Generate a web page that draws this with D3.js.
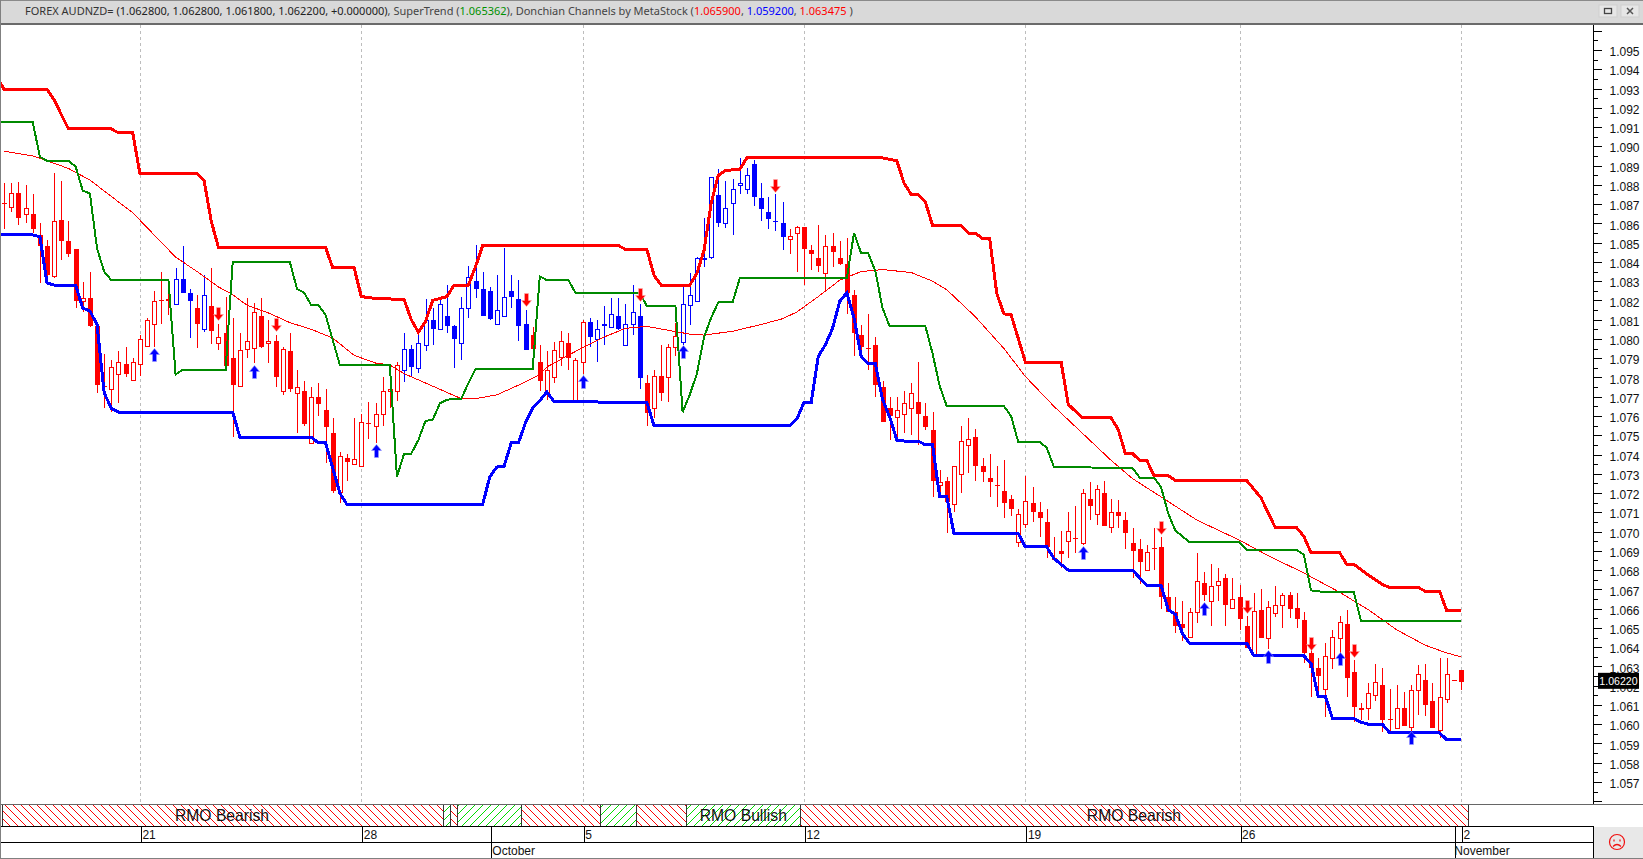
<!DOCTYPE html>
<html><head><meta charset="utf-8">
<script src="https://cdnjs.cloudflare.com/ajax/libs/d3/7.8.5/d3.min.js"></script>
<style>html,body{margin:0;padding:0;background:#fff;overflow:hidden}svg{display:block}</style>
</head><body><svg id="c" width="1643" height="859"></svg>
<script>
const opens=[1.08705,1.08685,1.08760,1.08650,1.08650,1.08540,1.08480,1.08325,1.08620,1.08510,
1.08465,1.08195,1.08210,1.08065,1.07755,1.07740,1.07820,1.07870,1.07785,1.07870,
1.07965,1.08075,1.08200,1.08205,1.08180,1.08310,1.08240,1.08160,1.08050,1.08170,
1.07980,1.08030,1.07900,1.07755,1.07950,1.07955,1.08120,1.07980,1.07990,1.07730,
1.07935,1.07720,1.07730,1.07460,1.07700,1.07630,1.07510,1.07205,1.07380,1.07350,
1.07340,1.07565,1.07550,1.07610,1.07730,1.07730,1.07840,1.07950,1.07850,1.07970,
1.08100,1.08050,1.08120,1.08065,1.07980,1.08160,1.08300,1.08260,1.08250,1.08080,
1.08120,1.08250,1.08205,1.08075,1.08020,1.07880,1.07725,1.07805,1.07905,1.07980,
1.07685,1.07880,1.08090,1.08000,1.08080,1.08060,1.08120,1.07970,1.08075,1.08120,
1.07770,1.07640,1.07810,1.07805,1.07960,1.07985,1.08175,1.08195,1.08420,1.08425,
1.08745,1.08600,1.08705,1.08800,1.08780,1.08910,1.08730,1.08660,1.08610,1.08600,
1.08520,1.08550,1.08580,1.08460,1.08420,1.08340,1.08480,1.08420,1.08390,1.08230,
1.08020,1.07955,1.07970,1.07750,1.07640,1.07595,1.07610,1.07640,1.07675,1.07600,
1.07525,1.07240,1.07265,1.07145,1.07300,1.07450,1.07490,1.07340,1.07280,1.07240,
1.07210,1.07170,1.06945,1.07040,1.07150,1.07100,1.07050,1.06865,1.06900,1.06950,
1.06965,1.06940,1.07170,1.07090,1.07200,1.07025,1.07100,1.07060,1.06940,1.06910,
1.06800,1.06915,1.06920,1.06660,1.06585,1.06520,1.06455,1.06585,1.06735,1.06640,
1.06725,1.06760,1.06605,1.06660,1.06510,1.06360,1.06595,1.06445,1.06575,1.06620,
1.06670,1.06605,1.06540,1.06370,1.06290,1.06185,1.06345,1.06445,1.06520,1.06270,
1.06085,1.06085,1.06150,1.06205,1.06025,1.05980,1.06085,1.05985,1.06175,1.06230,
1.06120,1.05970,1.06130,1.06230,1.06280];
const highs=[1.08810,1.08810,1.08815,1.08800,1.08750,1.08600,1.08515,1.08860,1.08820,1.08610,
1.08465,1.08295,1.08350,1.08085,1.07920,1.07890,1.07935,1.07960,1.07900,1.08020,
1.08110,1.08250,1.08350,1.08240,1.08370,1.08480,1.08260,1.08230,1.08330,1.08370,
1.08080,1.08220,1.08110,1.08030,1.08210,1.08185,1.08210,1.08100,1.08020,1.07960,
1.08030,1.07840,1.07780,1.07750,1.07770,1.07740,1.07590,1.07415,1.07405,1.07590,
1.07610,1.07675,1.07665,1.07805,1.07770,1.07880,1.08030,1.07970,1.08045,1.08205,
1.08160,1.08220,1.08280,1.08075,1.08220,1.08380,1.08490,1.08350,1.08270,1.08330,
1.08470,1.08330,1.08305,1.08150,1.08060,1.07970,1.07935,1.07985,1.08040,1.08030,
1.07900,1.08100,1.08110,1.08100,1.08170,1.08210,1.08210,1.08180,1.08280,1.08180,
1.07815,1.07840,1.07970,1.07975,1.08085,1.08270,1.08340,1.08425,1.08630,1.08840,
1.08880,1.08820,1.08830,1.08940,1.08890,1.08930,1.08810,1.08735,1.08750,1.08710,
1.08570,1.08585,1.08580,1.08490,1.08590,1.08540,1.08550,1.08510,1.08525,1.08255,
1.08075,1.08130,1.08010,1.07780,1.07700,1.07700,1.07730,1.07770,1.07880,1.07665,
1.07620,1.07320,1.07285,1.07340,1.07550,1.07590,1.07535,1.07380,1.07405,1.07340,
1.07370,1.07190,1.07115,1.07290,1.07230,1.07155,1.07115,1.06970,1.07005,1.07100,
1.07135,1.07220,1.07255,1.07240,1.07265,1.07170,1.07165,1.07100,1.07020,1.06960,
1.06930,1.07020,1.06970,1.06735,1.06660,1.06640,1.06605,1.06890,1.06790,1.06830,
1.06810,1.06780,1.06760,1.06725,1.06560,1.06680,1.06700,1.06640,1.06715,1.06680,
1.06685,1.06680,1.06585,1.06450,1.06345,1.06420,1.06490,1.06560,1.06595,1.06335,
1.06110,1.06215,1.06315,1.06290,1.06185,1.06205,1.06165,1.06205,1.06305,1.06315,
1.06215,1.06345,1.06345,1.06230,1.06280];
const lows=[1.08570,1.08660,1.08590,1.08600,1.08550,1.08290,1.08320,1.08315,1.08410,1.08425,
1.08160,1.08140,1.08060,1.07720,1.07640,1.07620,1.07665,1.07805,1.07780,1.07810,
1.07960,1.07960,1.08080,1.08125,1.08180,1.08240,1.08005,1.07955,1.08035,1.07975,
1.07945,1.07860,1.07490,1.07750,1.07900,1.07875,1.07955,1.07875,1.07750,1.07710,
1.07725,1.07510,1.07550,1.07460,1.07600,1.07355,1.07200,1.07150,1.07265,1.07350,
1.07335,1.07480,1.07460,1.07550,1.07640,1.07680,1.07775,1.07810,1.07825,1.07935,
1.07970,1.08045,1.08030,1.07850,1.07890,1.08110,1.08210,1.08120,1.08100,1.08075,
1.08115,1.08160,1.07990,1.07945,1.07910,1.07730,1.07685,1.07770,1.07860,1.07840,
1.07685,1.07820,1.07960,1.07880,1.07970,1.08060,1.08045,1.07970,1.08020,1.07740,
1.07550,1.07590,1.07680,1.07675,1.07910,1.07970,1.08075,1.08195,1.08375,1.08415,
1.08580,1.08575,1.08540,1.08750,1.08750,1.08690,1.08610,1.08570,1.08560,1.08460,
1.08440,1.08345,1.08280,1.08360,1.08350,1.08245,1.08375,1.08385,1.08130,1.07910,
1.07905,1.07840,1.07700,1.07570,1.07475,1.07475,1.07510,1.07500,1.07450,1.07525,
1.07180,1.07180,1.06995,1.07100,1.07200,1.07305,1.07265,1.07255,1.07180,1.07130,
1.07070,1.07080,1.06920,1.07020,1.07050,1.06970,1.06865,1.06850,1.06810,1.06865,
1.06890,1.06930,1.07060,1.07035,1.07030,1.06995,1.07020,1.06910,1.06760,1.06730,
1.06800,1.06800,1.06600,1.06580,1.06475,1.06430,1.06455,1.06525,1.06640,1.06510,
1.06640,1.06510,1.06605,1.06490,1.06395,1.06360,1.06445,1.06390,1.06555,1.06500,
1.06550,1.06500,1.06320,1.06140,1.06135,1.06035,1.06285,1.06310,1.06140,1.06010,
1.06020,1.06020,1.06120,1.05960,1.05955,1.05980,1.05990,1.05955,1.06050,1.06045,
1.05980,1.05930,1.06110,1.06230,1.06180];
const closes=[1.08705,1.08760,1.08630,1.08680,1.08570,1.08480,1.08330,1.08610,1.08510,1.08440,
1.08195,1.08210,1.08065,1.07760,1.07755,1.07855,1.07880,1.07820,1.07880,1.08000,
1.08100,1.08195,1.08200,1.08195,1.08310,1.08240,1.08195,1.08080,1.08230,1.08040,
1.08010,1.07860,1.07760,1.07945,1.07990,1.08140,1.07960,1.07990,1.07805,1.07950,
1.07740,1.07750,1.07560,1.07700,1.07660,1.07545,1.07210,1.07390,1.07360,1.07375,
1.07570,1.07565,1.07610,1.07730,1.07740,1.07865,1.07950,1.07855,1.07980,1.08100,
1.08050,1.08180,1.08065,1.08000,1.08160,1.08320,1.08260,1.08120,1.08105,1.08150,
1.08220,1.08220,1.08065,1.07945,1.07950,1.07780,1.07840,1.07945,1.07990,1.07900,
1.07890,1.08090,1.08010,1.08050,1.08065,1.08130,1.08050,1.08075,1.08140,1.07795,
1.07615,1.07810,1.07720,1.07960,1.08015,1.08180,1.08230,1.08420,1.08410,1.08840,
1.08600,1.08680,1.08780,1.08810,1.08850,1.08735,1.08675,1.08625,1.08610,1.08530,
1.08535,1.08580,1.08465,1.08440,1.08380,1.08480,1.08450,1.08390,1.08240,1.08030,
1.07960,1.07955,1.07760,1.07570,1.07600,1.07630,1.07665,1.07720,1.07610,1.07545,
1.07265,1.07255,1.07155,1.07340,1.07470,1.07480,1.07340,1.07310,1.07255,1.07240,
1.07150,1.07115,1.07090,1.07160,1.07100,1.07070,1.06920,1.06850,1.06885,1.07005,
1.06965,1.07200,1.07135,1.07220,1.07030,1.07100,1.07080,1.06995,1.06900,1.06840,
1.06895,1.06915,1.06660,1.06585,1.06510,1.06500,1.06585,1.06745,1.06670,1.06715,
1.06745,1.06620,1.06650,1.06545,1.06395,1.06590,1.06445,1.06610,1.06620,1.06670,
1.06600,1.06545,1.06370,1.06290,1.06250,1.06355,1.06455,1.06530,1.06240,1.06090,
1.06075,1.06160,1.06220,1.06020,1.06025,1.06085,1.05990,1.06175,1.06260,1.06100,
1.05980,1.06140,1.06260,1.06230,1.06220];
const colorRuns=[["r",24],["b",3],["r",1],["b",1],["r",27],["b",18],["r",8],["b",8],["r",5],["b",15],["r",95]];

const upperBars=[-1,0,6,7,9,15,16,18,19,27,28,29,30,45,46,49,50,52,56,57,58,59,60,62,63,65,66,67,86,87,90,91,92,96,97,98,99,100,101,103,104,123,125,126,127,128,129,130,134,135,136,137,138,139,140,141,143,148,149,151,155,156,157,158,159,160,161,163,164,174,176,178,181,182,183,187,188,189,191,193,194,198,199,201,202,204];
const upperVals=[1.09360,1.09295,1.09295,1.09240,1.09090,1.09090,1.09070,1.09070,1.08860,1.08860,1.08820,1.08610,1.08475,1.08475,1.08370,1.08370,1.08220,1.08210,1.08205,1.08100,1.08035,1.08090,1.08200,1.08220,1.08280,1.08280,1.08375,1.08485,1.08485,1.08465,1.08465,1.08330,1.08280,1.08280,1.08340,1.08460,1.08705,1.08850,1.08875,1.08880,1.08940,1.08940,1.08925,1.08810,1.08750,1.08750,1.08710,1.08590,1.08590,1.08550,1.08550,1.08520,1.08520,1.08235,1.08130,1.08125,1.07880,1.07880,1.07660,1.07590,1.07590,1.07530,1.07405,1.07405,1.07370,1.07370,1.07290,1.07290,1.07265,1.07265,1.07175,1.07020,1.07020,1.06975,1.06890,1.06890,1.06830,1.06830,1.06775,1.06725,1.06710,1.06710,1.06690,1.06690,1.06590,1.06590];
const lowerBars=[-1,4,5,6,7,10,11,12,13,14,15,16,32,33,43,44,45,46,47,48,67,68,69,70,71,72,73,74,75,76,77,90,91,110,111,112,113,114,115,116,117,118,119,120,121,122,123,124,125,126,128,129,130,131,132,133,142,143,146,147,149,158,160,162,163,164,165,166,174,175,182,183,184,185,186,189,190,191,193,194,201,202,204];
const lowerVals=[1.08540,1.08540,1.08530,1.08290,1.08280,1.08280,1.08160,1.08145,1.08075,1.07720,1.07640,1.07620,1.07620,1.07490,1.07490,1.07460,1.07460,1.07330,1.07200,1.07140,1.07140,1.07285,1.07335,1.07340,1.07460,1.07460,1.07565,1.07640,1.07680,1.07725,1.07675,1.07670,1.07550,1.07550,1.07585,1.07670,1.07670,1.07910,1.07970,1.08055,1.08195,1.08240,1.08110,1.07910,1.07870,1.07870,1.07685,1.07595,1.07475,1.07470,1.07470,1.07450,1.07450,1.07180,1.07180,1.06990,1.06990,1.06920,1.06920,1.06860,1.06800,1.06800,1.06720,1.06720,1.06595,1.06570,1.06470,1.06420,1.06420,1.06355,1.06355,1.06315,1.06145,1.06145,1.06030,1.06030,1.06010,1.06000,1.06000,1.05955,1.05955,1.05920,1.05920];
const superBars=[-1,4,5,6,9,10,11,12,13,14,15,23,24,25,31,32,40,41,42,43,44,45,46,47,54,55,56,57,58,59,60,61,62,64,65,66,74,75,76,79,80,89,90,94,95,96,97,98,99,100,102,103,118,119,120,121,122,123,124,129,130,131,132,140,141,142,145,146,147,158,159,161,162,163,164,166,173,174,181,182,183,185,189,190,204];
const superVals=[1.09125,1.09125,1.08945,1.08925,1.08925,1.08895,1.08770,1.08755,1.08470,1.08350,1.08305,1.08305,1.07815,1.07840,1.07840,1.08400,1.08400,1.08260,1.08240,1.08175,1.08175,1.08125,1.07995,1.07865,1.07865,1.07285,1.07405,1.07405,1.07475,1.07575,1.07580,1.07665,1.07685,1.07690,1.07770,1.07845,1.07845,1.08325,1.08305,1.08305,1.08240,1.08240,1.08170,1.08170,1.07620,1.07710,1.07820,1.08010,1.08110,1.08190,1.08190,1.08315,1.08315,1.08550,1.08445,1.08445,1.08350,1.08160,1.08065,1.08065,1.07925,1.07755,1.07650,1.07650,1.07600,1.07465,1.07465,1.07435,1.07335,1.07330,1.07280,1.07280,1.07230,1.07095,1.07005,1.06945,1.06945,1.06905,1.06905,1.06880,1.06695,1.06685,1.06685,1.06535,1.06535];
const maBars=[0,4,6,9,12,15,18,21,24,27,30,32,34,37,40,43,46,49,52,54,56,60,64,66,69,72,75,76,79,81,84,87,90,93,96,98,102,106,109,111,114,117,120,123,127,130,132,136,140,143,147,149,152,155,158,162,167,173,177,182,187,191,195,199,202,204];
const maVals=[1.08975,1.08950,1.08925,1.08885,1.08825,1.08740,1.08655,1.08540,1.08425,1.08350,1.08270,1.08230,1.08175,1.08135,1.08085,1.08050,1.08005,1.07915,1.07875,1.07865,1.07820,1.07755,1.07690,1.07690,1.07710,1.07760,1.07815,1.07855,1.07915,1.07955,1.08010,1.08055,1.08065,1.08045,1.08025,1.08020,1.08040,1.08075,1.08105,1.08140,1.08220,1.08305,1.08350,1.08360,1.08345,1.08300,1.08255,1.08115,1.07950,1.07805,1.07650,1.07580,1.07475,1.07370,1.07275,1.07180,1.07060,1.06955,1.06875,1.06785,1.06685,1.06595,1.06490,1.06410,1.06370,1.06350];

const upArrowBars=[21,35,52,81,95,151,168,177,187,197];
const upArrowVals=[1.07915,1.07830,1.07420,1.07775,1.07930,1.06890,1.06600,1.06350,1.06340,1.05930];
const downArrowBars=[30,38,73,89,108,162,174,183,189];
const downArrowVals=[1.08130,1.08070,1.08200,1.08230,1.08795,1.07020,1.06610,1.06415,1.06380];

const priceTicks=[1.095,1.094,1.093,1.092,1.091,1.090,1.089,1.088,1.087,1.086,1.085,1.084,1.083,1.082,1.081,1.080,1.079,1.078,1.077,1.076,1.075,1.074,1.073,1.072,1.071,1.070,1.069,1.068,1.067,1.066,1.065,1.064,1.063,1.062,1.061,1.060,1.059,1.058,1.057];
const weekBars=[19,50,81,112,143,173,204];
const weekLabels=["21","28","5","12","19","26","2"];
const monthBars=[68,203];
const monthLabels=["October","November"];
const rmoEdges=[-0.5,61.5,62.5,63.5,72.5,83.5,88.5,95.5,111.5,205];
const rmoStates=["bear","bull","bear","bull","bear","bull","bear","bull","bear"];
const rmoLabels=[["RMO Bearish",30.5],["RMO Bullish",103.5],["RMO Bearish",158.2]];
const lastClose=1.0622;

const x=d3.scaleLinear().domain([0,204]).range([4.2,1461]);
const y=d3.scaleLinear().domain([1.095,1.057]).range([50,782]);
const svg=d3.select("#c");
const AR="'Liberation Sans',Arial,sans-serif";
const defs=svg.append("defs");
defs.append("clipPath").attr("id","plot").append("rect").attr("x",1).attr("y",25).attr("width",1592).attr("height",779);
[["bear","#ff0000","M-1,-1L9,9M-1,7L1,9M7,-1L9,1"],["bull","#00dd00","M-1,9L9,-1M-1,1L1,-1M7,9L9,7"]].forEach(([id,c,d])=>{
  defs.append("pattern").attr("id",id).attr("patternUnits","userSpaceOnUse").attr("width",8).attr("height",8)
   .append("path").attr("d",d).attr("stroke",c).attr("stroke-width",1).attr("fill","none");
});
svg.append("rect").attr("width",1643).attr("height",859).attr("fill","#fff");

// grid
const plot=svg.append("g").attr("clip-path","url(#plot)").attr("shape-rendering","crispEdges");
plot.selectAll("line.grid").data(weekBars).join("line").attr("class","grid")
 .attr("x1",d=>Math.round(x(d))+.5).attr("x2",d=>Math.round(x(d))+.5).attr("y1",25).attr("y2",804)
 .attr("stroke","#bdbdbd").attr("stroke-dasharray","3,3");

// candles
const candleColors=colorRuns.flatMap(([c,n])=>Array(n).fill(c==="r"?"#ff0000":"#0000ff"));
const bars=opens.map((o,i)=>({i,o,h:highs[i],l:lows[i],c:closes[i],col:candleColors[i]}));
const gc=plot.selectAll("g.k").data(bars).join("g").attr("class","k");
gc.append("line").attr("x1",d=>Math.round(x(d.i))+.5).attr("x2",d=>Math.round(x(d.i))+.5)
 .attr("y1",d=>y(d.h)).attr("y2",d=>y(d.l)).attr("stroke",d=>d.col);
gc.append("rect").each(function(d){
  const cx=Math.round(x(d.i)),t=Math.round(y(Math.max(d.o,d.c))),b=Math.round(y(Math.min(d.o,d.c))),s=d3.select(this);
  if(d.c>d.o){s.attr("x",cx-1.5).attr("y",t+.5).attr("width",4).attr("height",Math.max(b-t,1)).attr("fill","#fff").attr("stroke",d.col);}
  else{s.attr("x",cx-2).attr("y",t).attr("width",5).attr("height",Math.max(b-t,1)).attr("fill",d.col);}
});

// lines
const lineOf=d3.line().x(d=>x(d[0])).y(d=>y(d[1]));
const pairs=(a,b)=>a.map((v,i)=>[v,b[i]]);
plot.append("path").attr("d",lineOf(pairs(maBars,maVals))).attr("fill","none").attr("stroke","#ff0000").attr("stroke-width",1);
plot.append("path").attr("d",lineOf(pairs(superBars,superVals))).attr("fill","none").attr("stroke","#008a00").attr("stroke-width",2);
plot.append("path").attr("d",lineOf(pairs(upperBars,upperVals))).attr("fill","none").attr("stroke","#ff0000").attr("stroke-width",3);
plot.append("path").attr("d",lineOf(pairs(lowerBars,lowerVals))).attr("fill","none").attr("stroke","#0000ff").attr("stroke-width",3);

// arrows
const upPath="M0.5,-6.5L5.5,-0.5L2.5,-0.5L2.5,6.5L-1.5,6.5L-1.5,-0.5L-4.5,-0.5Z";
const downPath="M0.5,6.5L5.5,0.5L2.5,0.5L2.5,-6.5L-1.5,-6.5L-1.5,0.5L-4.5,0.5Z";
const arrows=svg.append("g").attr("clip-path","url(#plot)");
arrows.selectAll("path.up").data(pairs(upArrowBars,upArrowVals)).join("path").attr("class","up").attr("d",upPath)
 .attr("transform",d=>`translate(${Math.round(x(d[0]))},${Math.round(y(d[1]))})`).attr("fill","#0000ff").attr("stroke","#9a9aff").attr("stroke-width",.6);
arrows.selectAll("path.dn").data(pairs(downArrowBars,downArrowVals)).join("path").attr("class","dn").attr("d",downPath)
 .attr("transform",d=>`translate(${Math.round(x(d[0]))},${Math.round(y(d[1]))})`).attr("fill","#ff0000").attr("stroke","#ffb0b0").attr("stroke-width",.6);

// price axis
const axisG=svg.append("g").attr("transform","translate(1593.5,0)").attr("shape-rendering","crispEdges");
axisG.append("g").call(d3.axisRight(y).tickValues(priceTicks.concat([1.096,1.056])).tickSize(8).tickFormat(d=>(d>1.0955||d<1.0565)?"":d3.format(".3f")(d)))
 .call(g=>g.select(".domain").remove())
 .call(g=>g.selectAll("text").attr("x",16).attr("dy","0.47em").attr("font-family",AR).attr("font-size",12).attr("fill","#111").attr("text-anchor","start"))
 .call(g=>g.selectAll("line").attr("stroke","#000"));
axisG.append("g").call(d3.axisRight(y).tickValues(d3.range(1.0555,1.0965,0.001)).tickSize(4).tickFormat(""))
 .call(g=>g.select(".domain").remove()).call(g=>g.selectAll("line").attr("stroke","#000"));
axisG.append("line").attr("y1",25).attr("y2",804).attr("stroke","#000").attr("stroke-width",1.5);
const py=y(lastClose);
svg.append("rect").attr("x",1598).attr("y",py-9).attr("width",41).attr("height",16).attr("fill","#000");
svg.append("text").attr("x",1618.5).attr("y",py+3.5).attr("text-anchor","middle").attr("font-family",AR).attr("font-size",10.6).attr("fill","#fff").text(d3.format(".5f")(lastClose));

// RMO band
const rmo=svg.append("g").attr("shape-rendering","crispEdges");
rmo.append("rect").attr("x",0).attr("y",804).attr("width",1643).attr("height",23).attr("fill","#fff");
const segs=rmoStates.map((s,i)=>({s,a:Math.max(x(rmoEdges[i]),2),b:x(rmoEdges[i+1])}));
rmo.selectAll("rect.s").data(segs).join("rect").attr("class","s").attr("x",d=>d.a).attr("y",804.5).attr("width",d=>d.b-d.a).attr("height",22)
 .attr("fill",d=>`url(#${d.s})`).attr("stroke","#333");
rmo.append("line").attr("x1",0).attr("x2",1643).attr("y1",804.5).attr("y2",804.5).attr("stroke","#666");
svg.selectAll("text.rmo").data(rmoLabels).join("text").attr("class","rmo").attr("x",d=>x(d[1])).attr("y",821)
 .attr("text-anchor","middle").attr("font-family",AR).attr("font-size",15.7).attr("fill","#111").text(d=>d[0]);

// time rows
const time=svg.append("g").attr("shape-rendering","crispEdges");
time.append("rect").attr("x",1).attr("y",827).attr("width",1593).attr("height",31).attr("fill","#fff");
time.append("g").attr("transform","translate(0,826.5)")
 .call(d3.axisBottom(x).tickValues(weekBars).tickSize(16).tickFormat((d,i)=>weekLabels[i]))
 .call(g=>g.select(".domain").remove())
 .call(g=>g.selectAll("line").attr("stroke","#000").attr("transform",function(d){return `translate(${Math.round(x(d))-x(d)+.5},0)`;}))
 .call(g=>g.selectAll("text").attr("x",2).attr("y",4).attr("dy","0.71em").attr("text-anchor","start").attr("font-family",AR).attr("font-size",12).attr("fill","#111"));
time.append("g").attr("transform","translate(0,826.5)")
 .call(d3.axisBottom(x).tickValues(monthBars).tickSize(32).tickFormat((d,i)=>monthLabels[i]))
 .call(g=>g.select(".domain").remove())
 .call(g=>g.selectAll("line").attr("stroke","#000").attr("transform",function(d){return `translate(${Math.round(x(d))-x(d)+.5},0)`;}))
 .call(g=>g.selectAll("text").attr("x",(d,i)=>i?0:2).attr("y",20).attr("dy","0.71em").attr("text-anchor","start").attr("font-family",AR).attr("font-size",12).attr("fill","#111"));
[826.5,842.5].forEach(v=>time.append("line").attr("x1",0).attr("x2",1594).attr("y1",v).attr("y2",v).attr("stroke","#000"));
time.append("line").attr("x1",1593.5).attr("x2",1593.5).attr("y1",827).attr("y2",859).attr("stroke","#000");
time.append("rect").attr("x",1594).attr("y",827).attr("width",49).attr("height",32).attr("fill","#e8e8e8");
const face=svg.append("g").attr("transform","translate(1617,842)").attr("fill","none").attr("stroke","#f01010").attr("stroke-width",1.2);
face.append("circle").attr("r",7.5);
face.append("path").attr("d","M-4,4.5Q0,0.5 4,4.5");
face.append("path").attr("d","M-3,-2.5V-0.5M3,-2.5V-0.5");

// title bar
svg.append("rect").attr("width",1643).attr("height",24).attr("fill","#d9d9d9");
svg.append("line").attr("x1",0).attr("x2",1643).attr("y1",0.5).attr("y2",0.5).attr("stroke","#8a8a8a");
svg.append("line").attr("x1",0).attr("x2",1643).attr("y1",24).attr("y2",24).attr("stroke","#6a6a6a").attr("stroke-width",2);
const t=svg.append("text").attr("x",25).attr("y",15).attr("font-family","'Noto Sans',Tahoma,sans-serif").attr("font-size",11).attr("fill","#444");
[["FOREX AUDNZD= ","#333"],["(1.062800, 1.062800, 1.061800, 1.062200, +0.000000)","#222"],[", SuperTrend ("," #444"],["1.065362","#009000"],["), Donchian Channels by MetaStock (","#444"],["1.065900","#ff0000"],[", ","#444"],["1.059200","#0000ff"],[", ","#444"],["1.063475","#ff0000"],[" )","#444"]]
 .forEach(([s,c])=>t.append("tspan").attr("fill",c.trim()).text(s));
[[1599,"max"],[1621,"close"]].forEach(([bx,k])=>{
  svg.append("rect").attr("x",bx).attr("y",5).attr("width",18).attr("height",12).attr("fill","#e6e6e6").attr("stroke","#cfcfcf");
  if(k==="max")svg.append("rect").attr("x",bx+5.5).attr("y",8.5).attr("width",7).attr("height",5).attr("fill","none").attr("stroke","#444").attr("stroke-width",1.3);
  else svg.append("path").attr("d",`M${bx+6},8L${bx+12},14M${bx+12},8L${bx+6},14`).attr("stroke","#555").attr("stroke-width",1.5);
});
// frame
svg.append("line").attr("x1",0.5).attr("x2",0.5).attr("y1",0).attr("y2",859).attr("stroke","#808080");
svg.append("line").attr("x1",0).attr("x2",1643).attr("y1",858.5).attr("y2",858.5).attr("stroke","#808080");
</script></body></html>
